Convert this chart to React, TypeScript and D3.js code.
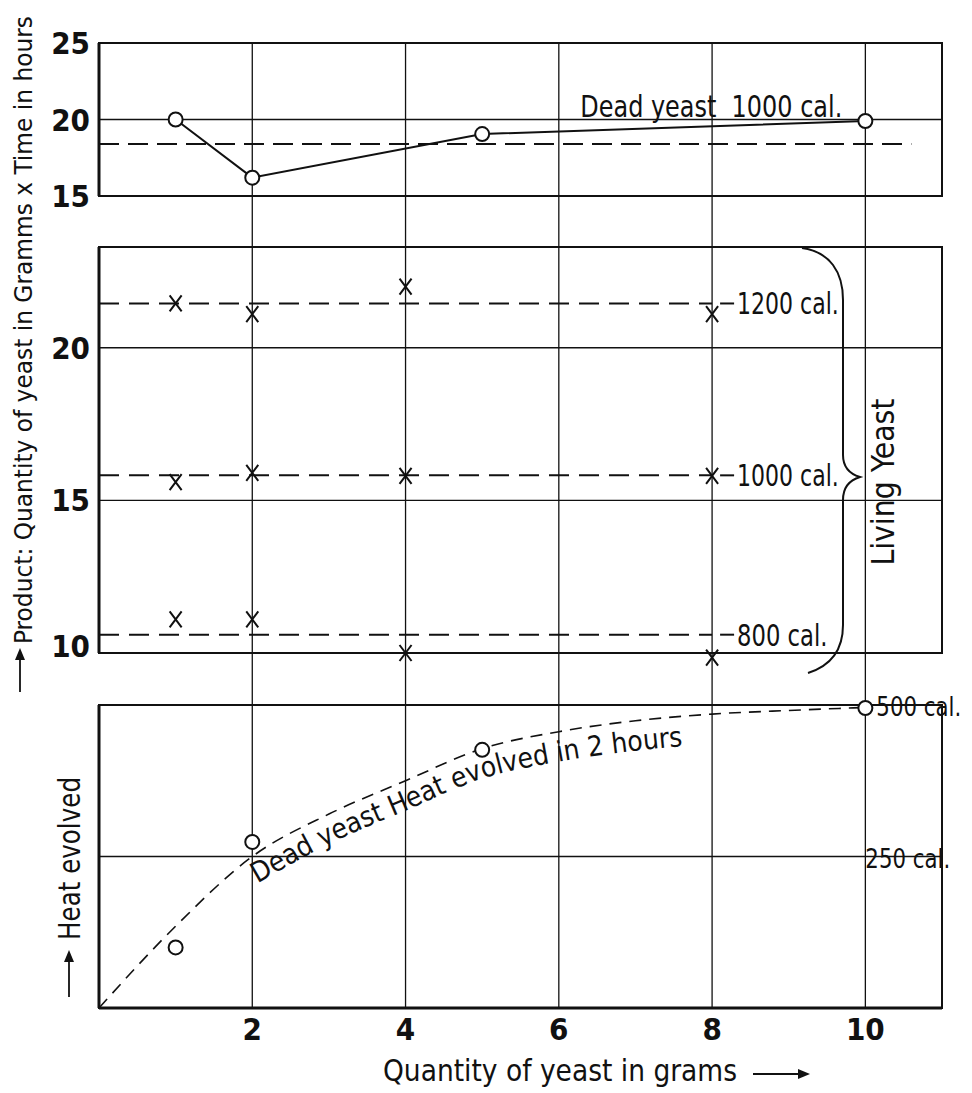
import * as d3 from "d3";

// x axis: grams of yeast
const xTicks = [2, 4, 6, 8, 10];

// top panel: dead yeast, product (grams x hours) for 1000 cal.
const topTicks = [15, 20, 25];
const deadX = [1, 2, 5, 10];
const deadProduct = [20, 16.2, 19.05, 19.9];
const deadMean = 18.4;

// middle panel: living yeast, product for 1200 / 1000 / 800 cal.
const midTicks = [10, 15, 20];
const livingX = [1, 2, 4, 8];
const living1200 = [21.45, 21.1, 22.0, 21.1];
const living1000 = [15.6, 15.9, 15.8, 15.8];
const living800 = [11.1, 11.1, 10.0, 9.85];
const livingMeans = [21.45, 15.82, 10.6];
const livingLabels = ["1200 cal.", "1000 cal.", "800 cal."];

// bottom panel: dead yeast, heat evolved in 2 hours (cal.)
const heatX = [1, 2, 5, 10];
const heatY = [100, 274, 426, 495];
const heatCurveX = [0, 1, 2, 3, 4, 5, 6, 7, 8, 9, 10];
const heatCurveY = [0, 135, 250, 320, 375, 428, 456, 474, 485, 491, 496];
const heatTicks = [250, 500];
const heatLabels = ["250 cal.", "500 cal."];

const W = 972;
const H = 1093;
const FONT =
  "'Liberation Sans Narrow','DejaVu Sans Condensed','Arial Narrow','Liberation Sans',sans-serif";
const INK = "#111";

export default function App() {
  const x = d3.scaleLinear().domain([0, 11]).range([99, 942]);
  const yTop = d3.scaleLinear().domain([15, 25]).range([196, 43]);
  const yMid = d3.scaleLinear().domain([10, 23.3]).range([653, 247]);
  const yBot = d3.scaleLinear().domain([0, 500]).range([1008, 705]);

  const topLine = d3
    .line<number>()
    .x((_, i) => x(deadX[i]))
    .y((v) => yTop(v));

  const heatLine = d3
    .line<number>()
    .x((_, i) => x(heatCurveX[i]))
    .y((v) => yBot(v))
    .curve(d3.curveMonotoneX);

  // baseline for the curved label, a little below the dashed curve
  const labelPath = d3
    .line<number>()
    .x((_, i) => x(heatCurveX[i + 2]))
    .y((v) => yBot(v) + 30)
    .curve(d3.curveMonotoneX)(heatCurveY.slice(2));

  const xMark = "M-6,-8L6,8M6,-8L-6,8";
  const series = [living1200, living1000, living800];

  const panel = (top: number, bottom: number) => (
    <g>
      <rect
        x={x(0)}
        y={top}
        width={x(11) - x(0)}
        height={bottom - top}
        fill="none"
        stroke={INK}
        strokeWidth={2}
      />
      <line x1={x(0)} x2={x(0)} y1={top} y2={bottom} stroke={INK} strokeWidth={3} />
    </g>
  );

  return (
    <div style={{ position: "absolute", left: 0, top: 0, background: "#fff" }}>
      <svg width={W} height={H} viewBox={`0 0 ${W} ${H}`} fontFamily={FONT}>
        <rect width={W} height={H} fill="#fff" />

        {/* vertical grid running through all three panels */}
        {xTicks.map((t) => (
          <line
            key={"vg" + t}
            x1={x(t)}
            x2={x(t)}
            y1={yTop(25)}
            y2={yBot(0)}
            stroke={INK}
            strokeWidth={1.3}
          />
        ))}

        {/* ---------- top panel ---------- */}
        {panel(yTop(25), yTop(15))}
        <line x1={x(0)} x2={x(11)} y1={yTop(20)} y2={yTop(20)} stroke={INK} strokeWidth={1.3} />
        {topTicks.map((t) => (
          <text key={"tt" + t} x={90} y={yTop(t) + 11} textAnchor="end" fontSize={31} fontWeight="bold" fill={INK}>
            {t}
          </text>
        ))}
        <line
          x1={x(0)}
          x2={x(10.6)}
          y1={yTop(deadMean)}
          y2={yTop(deadMean)}
          stroke={INK}
          strokeWidth={2}
          strokeDasharray="20,9"
        />
        <path d={topLine(deadProduct) ?? ""} fill="none" stroke={INK} strokeWidth={2} />
        {deadProduct.map((v, i) => (
          <circle key={"dc" + i} cx={x(deadX[i])} cy={yTop(v)} r={7} fill="#fff" stroke={INK} strokeWidth={2} />
        ))}
        <text x={x(6.28)} y={yTop(20) - 3} fontSize={31} fill={INK} textLength={262} lengthAdjust="spacingAndGlyphs">
          {"Dead yeast\u00a0\u00a01000 cal."}
        </text>

        {/* ---------- middle panel ---------- */}
        {panel(yMid(23.3), yMid(10))}
        {[15, 20].map((t) => (
          <line key={"mg" + t} x1={x(0)} x2={x(11)} y1={yMid(t)} y2={yMid(t)} stroke={INK} strokeWidth={1.3} />
        ))}
        {midTicks.map((t) => (
          <text
            key={"mt" + t}
            x={90}
            y={yMid(t) + (t === 10 ? 4 : 11)}
            textAnchor="end"
            fontSize={31}
            fontWeight="bold"
            fill={INK}
          >
            {t}
          </text>
        ))}
        {livingMeans.map((m, i) => (
          <g key={"lm" + i}>
            <line
              x1={x(0)}
              x2={x(8)}
              y1={yMid(m)}
              y2={yMid(m)}
              stroke={INK}
              strokeWidth={2}
              strokeDasharray="20,10"
            />
            <line x1={x(8) + 8} x2={x(8) + 22} y1={yMid(m)} y2={yMid(m)} stroke={INK} strokeWidth={2} />
            <text
              x={x(8) + 25}
              y={yMid(m) + 11}
              fontSize={31}
              fill={INK}
              textLength={livingLabels[i].length * 11.3}
              lengthAdjust="spacingAndGlyphs"
            >
              {livingLabels[i]}
            </text>
          </g>
        ))}
        {series.map((s, si) =>
          s.map((v, i) => (
            <path
              key={"x" + si + "-" + i}
              d={xMark}
              transform={`translate(${x(livingX[i])},${yMid(v)})`}
              fill="none"
              stroke={INK}
              strokeWidth={2}
            />
          ))
        )}
        {/* brace */}
        <path
          d="M802,248 C830,252 843,272 843,300 L843,455 C843,468 850,474 860,477 C850,480 843,486 843,500 L843,625 C843,650 830,666 808,673"
          fill="none"
          stroke={INK}
          strokeWidth={2}
        />
        <text
          transform={`translate(894,${yMid(15.6)}) rotate(-90)`}
          textAnchor="middle"
          fontSize={32}
          fill={INK}
          textLength={167}
          lengthAdjust="spacingAndGlyphs"
        >
          Living Yeast
        </text>

        {/* ---------- bottom panel ---------- */}
        {panel(yBot(500), yBot(0))}
        <line x1={x(0)} x2={x(11)} y1={yBot(0)} y2={yBot(0)} stroke={INK} strokeWidth={3} />
        <line x1={x(0)} x2={x(11)} y1={yBot(250)} y2={yBot(250)} stroke={INK} strokeWidth={1.3} />
        <path
          d={heatLine(heatCurveY) ?? ""}
          fill="none"
          stroke={INK}
          strokeWidth={1.6}
          strokeDasharray="12,8"
        />
        {heatY.map((v, i) => (
          <circle key={"hc" + i} cx={x(heatX[i])} cy={yBot(v)} r={7} fill="#fff" stroke={INK} strokeWidth={2} />
        ))}
        <path id="heatLabel" d={labelPath ?? ""} fill="none" />
        <text fontSize={28} fill={INK}>
          <textPath href="#heatLabel" startOffset={6} textLength={452} lengthAdjust="spacingAndGlyphs">
            Dead yeast Heat evolved in 2 hours
          </textPath>
        </text>
        {heatTicks.map((t, i) => (
          <text
            key={"ht" + t}
            x={x(10) + (t === 500 ? 11 : 0)}
            y={yBot(t) + 11}
            fontSize={27}
            fill={INK}
            textLength={heatLabels[i].length * 10.6}
            lengthAdjust="spacingAndGlyphs"
          >
            {heatLabels[i]}
          </text>
        ))}

        {/* x tick labels */}
        {xTicks.map((t) => (
          <text key={"xt" + t} x={x(t)} y={1040} textAnchor="middle" fontSize={31} fontWeight="bold" fill={INK}>
            {t}
          </text>
        ))}

        {/* x axis title */}
        <text x={383} y={1081} fontSize={31} fill={INK} textLength={354} lengthAdjust="spacingAndGlyphs">
          Quantity of yeast in grams
        </text>
        <line x1={753} x2={806} y1={1074} y2={1074} stroke={INK} strokeWidth={1.8} />
        <path d="M798,1069 L810,1074 L798,1079 Z" fill={INK} />

        {/* y axis titles */}
        <text
          transform="translate(32,644) rotate(-90)"
          fontSize={25}
          fill={INK}
          textLength={628}
          lengthAdjust="spacingAndGlyphs"
        >
          Product: Quantity of yeast in Gramms x Time in hours
        </text>
        <line x1={20} x2={20} y1={692} y2={654} stroke={INK} strokeWidth={1.8} />
        <path d="M15,660 L20,648 L25,660 Z" fill={INK} />

        <text
          transform="translate(80,940) rotate(-90)"
          fontSize={31}
          fill={INK}
          textLength={163}
          lengthAdjust="spacingAndGlyphs"
        >
          Heat evolved
        </text>
        <line x1={69} x2={69} y1={997} y2={956} stroke={INK} strokeWidth={1.8} />
        <path d="M64,962 L69,950 L74,962 Z" fill={INK} />
      </svg>
    </div>
  );
}
